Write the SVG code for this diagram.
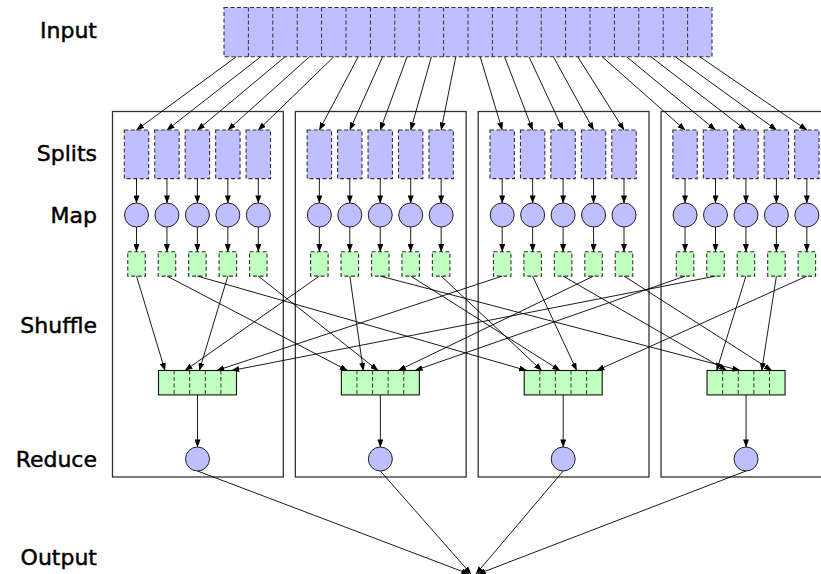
<svg xmlns="http://www.w3.org/2000/svg" width="821" height="574" viewBox="0 0 821 574">
<style>
.lbl{font-family:"DejaVu Sans",sans-serif;font-size:22px;fill:#000;stroke:#000;stroke-width:0.45;text-anchor:end}
.grp{fill:none;stroke:#333;stroke-width:1.3}
.blue{fill:#bfbfff;stroke:#333;stroke-width:1.1;stroke-dasharray:4 2.5}
.bluec{fill:#bfbfff;stroke:#222;stroke-width:1}
.green{fill:#c0ffc0;stroke:#333;stroke-width:1.1;stroke-dasharray:4 2.5}
.shuf{fill:#c0ffc0;stroke:#111;stroke-width:1.1}
.div{stroke:#333;stroke-width:1;stroke-dasharray:4 2.5;fill:none}
.ar{stroke:#000;stroke-width:0.9;fill:none;marker-end:url(#ah)}
</style>
<defs>
<marker id="ah" markerUnits="userSpaceOnUse" markerWidth="8" markerHeight="6" refX="7.6" refY="3" orient="auto">
<path d="M0,0 L8,3 L0,6 Z" fill="#000"/>
</marker>
</defs>

<g id="labels">
<text class="lbl" x="97" y="38.3">Input</text>
<text class="lbl" x="97" y="160.7">Splits</text>
<text class="lbl" x="97" y="223">Map</text>
<text class="lbl" x="97" y="333">Shuffle</text>
<text class="lbl" x="97" y="467">Reduce</text>
<text class="lbl" x="97" y="565">Output</text>
</g>

<g id="worker-boxes">
<rect id="box1" class="grp" x="112.5" y="111.5" width="170.8" height="365.5"/>
<rect id="box2" class="grp" x="295.35" y="111.5" width="170.8" height="365.5"/>
<rect id="box3" class="grp" x="478.2" y="111.5" width="170.8" height="365.5"/>
<rect id="box4" class="grp" x="661.05" y="111.5" width="170.8" height="365.5"/>
</g>

<g id="input">
<rect class="blue" x="224" y="7.5" width="488" height="49.3"/>
<path class="div" d="M248.4,7.5V56.8M272.8,7.5V56.8M297.2,7.5V56.8M321.6,7.5V56.8M346,7.5V56.8M370.4,7.5V56.8M394.8,7.5V56.8M419.2,7.5V56.8M443.6,7.5V56.8M468,7.5V56.8M492.4,7.5V56.8M516.8,7.5V56.8M541.2,7.5V56.8M565.6,7.5V56.8M590,7.5V56.8M614.4,7.5V56.8M638.8,7.5V56.8M663.2,7.5V56.8M687.6,7.5V56.8"/>
</g>

<g id="splits">
<g id="split1-1"><rect class="blue" x="124.3" y="130" width="24.4" height="48.6"/></g>
<g id="split1-2"><rect class="blue" x="154.75" y="130" width="24.4" height="48.6"/></g>
<g id="split1-3"><rect class="blue" x="185.2" y="130" width="24.4" height="48.6"/></g>
<g id="split1-4"><rect class="blue" x="215.65" y="130" width="24.4" height="48.6"/></g>
<g id="split1-5"><rect class="blue" x="246.1" y="130" width="24.4" height="48.6"/></g>
<g id="split2-1"><rect class="blue" x="307.15" y="130" width="24.4" height="48.6"/></g>
<g id="split2-2"><rect class="blue" x="337.6" y="130" width="24.4" height="48.6"/></g>
<g id="split2-3"><rect class="blue" x="368.05" y="130" width="24.4" height="48.6"/></g>
<g id="split2-4"><rect class="blue" x="398.5" y="130" width="24.4" height="48.6"/></g>
<g id="split2-5"><rect class="blue" x="428.95" y="130" width="24.4" height="48.6"/></g>
<g id="split3-1"><rect class="blue" x="490" y="130" width="24.4" height="48.6"/></g>
<g id="split3-2"><rect class="blue" x="520.45" y="130" width="24.4" height="48.6"/></g>
<g id="split3-3"><rect class="blue" x="550.9" y="130" width="24.4" height="48.6"/></g>
<g id="split3-4"><rect class="blue" x="581.35" y="130" width="24.4" height="48.6"/></g>
<g id="split3-5"><rect class="blue" x="611.8" y="130" width="24.4" height="48.6"/></g>
<g id="split4-1"><rect class="blue" x="672.85" y="130" width="24.4" height="48.6"/></g>
<g id="split4-2"><rect class="blue" x="703.3" y="130" width="24.4" height="48.6"/></g>
<g id="split4-3"><rect class="blue" x="733.75" y="130" width="24.4" height="48.6"/></g>
<g id="split4-4"><rect class="blue" x="764.2" y="130" width="24.4" height="48.6"/></g>
<g id="split4-5"><rect class="blue" x="794.65" y="130" width="24.4" height="48.6"/></g>
</g>

<g id="maps">
<g id="map1-1"><circle class="bluec" cx="136.5" cy="215" r="12"/></g>
<g id="map1-2"><circle class="bluec" cx="166.95" cy="215" r="12"/></g>
<g id="map1-3"><circle class="bluec" cx="197.4" cy="215" r="12"/></g>
<g id="map1-4"><circle class="bluec" cx="227.85" cy="215" r="12"/></g>
<g id="map1-5"><circle class="bluec" cx="258.3" cy="215" r="12"/></g>
<g id="map2-1"><circle class="bluec" cx="319.35" cy="215" r="12"/></g>
<g id="map2-2"><circle class="bluec" cx="349.8" cy="215" r="12"/></g>
<g id="map2-3"><circle class="bluec" cx="380.25" cy="215" r="12"/></g>
<g id="map2-4"><circle class="bluec" cx="410.7" cy="215" r="12"/></g>
<g id="map2-5"><circle class="bluec" cx="441.15" cy="215" r="12"/></g>
<g id="map3-1"><circle class="bluec" cx="502.2" cy="215" r="12"/></g>
<g id="map3-2"><circle class="bluec" cx="532.65" cy="215" r="12"/></g>
<g id="map3-3"><circle class="bluec" cx="563.1" cy="215" r="12"/></g>
<g id="map3-4"><circle class="bluec" cx="593.55" cy="215" r="12"/></g>
<g id="map3-5"><circle class="bluec" cx="624" cy="215" r="12"/></g>
<g id="map4-1"><circle class="bluec" cx="685.05" cy="215" r="12"/></g>
<g id="map4-2"><circle class="bluec" cx="715.5" cy="215" r="12"/></g>
<g id="map4-3"><circle class="bluec" cx="745.95" cy="215" r="12"/></g>
<g id="map4-4"><circle class="bluec" cx="776.4" cy="215" r="12"/></g>
<g id="map4-5"><circle class="bluec" cx="806.85" cy="215" r="12"/></g>
</g>

<g id="map-outputs">
<g id="out1-1"><rect class="green" x="127.75" y="251.7" width="17.5" height="24.4"/></g>
<g id="out1-2"><rect class="green" x="158.2" y="251.7" width="17.5" height="24.4"/></g>
<g id="out1-3"><rect class="green" x="188.65" y="251.7" width="17.5" height="24.4"/></g>
<g id="out1-4"><rect class="green" x="219.1" y="251.7" width="17.5" height="24.4"/></g>
<g id="out1-5"><rect class="green" x="249.55" y="251.7" width="17.5" height="24.4"/></g>
<g id="out2-1"><rect class="green" x="310.6" y="251.7" width="17.5" height="24.4"/></g>
<g id="out2-2"><rect class="green" x="341.05" y="251.7" width="17.5" height="24.4"/></g>
<g id="out2-3"><rect class="green" x="371.5" y="251.7" width="17.5" height="24.4"/></g>
<g id="out2-4"><rect class="green" x="401.95" y="251.7" width="17.5" height="24.4"/></g>
<g id="out2-5"><rect class="green" x="432.4" y="251.7" width="17.5" height="24.4"/></g>
<g id="out3-1"><rect class="green" x="493.45" y="251.7" width="17.5" height="24.4"/></g>
<g id="out3-2"><rect class="green" x="523.9" y="251.7" width="17.5" height="24.4"/></g>
<g id="out3-3"><rect class="green" x="554.35" y="251.7" width="17.5" height="24.4"/></g>
<g id="out3-4"><rect class="green" x="584.8" y="251.7" width="17.5" height="24.4"/></g>
<g id="out3-5"><rect class="green" x="615.25" y="251.7" width="17.5" height="24.4"/></g>
<g id="out4-1"><rect class="green" x="676.3" y="251.7" width="17.5" height="24.4"/></g>
<g id="out4-2"><rect class="green" x="706.75" y="251.7" width="17.5" height="24.4"/></g>
<g id="out4-3"><rect class="green" x="737.2" y="251.7" width="17.5" height="24.4"/></g>
<g id="out4-4"><rect class="green" x="767.65" y="251.7" width="17.5" height="24.4"/></g>
<g id="out4-5"><rect class="green" x="798.1" y="251.7" width="17.5" height="24.4"/></g>
</g>

<g id="shuffles">
<g id="shuffle1"><rect class="shuf" x="158.5" y="370.5" width="78" height="24.4"/><path class="div" d="M174.1,370.5V394.9M189.7,370.5V394.9M205.3,370.5V394.9M220.9,370.5V394.9"/></g>
<g id="shuffle2"><rect class="shuf" x="341.35" y="370.5" width="78" height="24.4"/><path class="div" d="M356.95,370.5V394.9M372.55,370.5V394.9M388.15,370.5V394.9M403.75,370.5V394.9"/></g>
<g id="shuffle3"><rect class="shuf" x="524.2" y="370.5" width="78" height="24.4"/><path class="div" d="M539.8,370.5V394.9M555.4,370.5V394.9M571,370.5V394.9M586.6,370.5V394.9"/></g>
<g id="shuffle4"><rect class="shuf" x="707.05" y="370.5" width="78" height="24.4"/><path class="div" d="M722.65,370.5V394.9M738.25,370.5V394.9M753.85,370.5V394.9M769.45,370.5V394.9"/></g>
</g>

<g id="reducers">
<g id="reduce1"><circle class="bluec" cx="197.5" cy="459" r="12"/></g>
<g id="reduce2"><circle class="bluec" cx="380.35" cy="459" r="12"/></g>
<g id="reduce3"><circle class="bluec" cx="563.2" cy="459" r="12"/></g>
<g id="reduce4"><circle class="bluec" cx="746.05" cy="459" r="12"/></g>
</g>

<g id="connectors">
<path class="ar" d="M236.2,56.8L136.5,130"/>
<path class="ar" d="M260.6,56.8L166.95,130"/>
<path class="ar" d="M285,56.8L197.4,130"/>
<path class="ar" d="M309.4,56.8L227.85,130"/>
<path class="ar" d="M333.8,56.8L258.3,130"/>
<path class="ar" d="M358.2,56.8L319.35,130"/>
<path class="ar" d="M382.6,56.8L349.8,130"/>
<path class="ar" d="M407,56.8L380.25,130"/>
<path class="ar" d="M431.4,56.8L410.7,130"/>
<path class="ar" d="M455.8,56.8L441.15,130"/>
<path class="ar" d="M480.2,56.8L502.2,130"/>
<path class="ar" d="M504.6,56.8L532.65,130"/>
<path class="ar" d="M529,56.8L563.1,130"/>
<path class="ar" d="M553.4,56.8L593.55,130"/>
<path class="ar" d="M577.8,56.8L624,130"/>
<path class="ar" d="M602.2,56.8L685.05,130"/>
<path class="ar" d="M626.6,56.8L715.5,130"/>
<path class="ar" d="M651,56.8L745.95,130"/>
<path class="ar" d="M675.4,56.8L776.4,130"/>
<path class="ar" d="M699.8,56.8L806.85,130"/>
<path class="ar" d="M136.5,178.6V203"/><path class="ar" d="M166.95,178.6V203"/><path class="ar" d="M197.4,178.6V203"/><path class="ar" d="M227.85,178.6V203"/><path class="ar" d="M258.3,178.6V203"/>
<path class="ar" d="M319.35,178.6V203"/><path class="ar" d="M349.8,178.6V203"/><path class="ar" d="M380.25,178.6V203"/><path class="ar" d="M410.7,178.6V203"/><path class="ar" d="M441.15,178.6V203"/>
<path class="ar" d="M502.2,178.6V203"/><path class="ar" d="M532.65,178.6V203"/><path class="ar" d="M563.1,178.6V203"/><path class="ar" d="M593.55,178.6V203"/><path class="ar" d="M624,178.6V203"/>
<path class="ar" d="M685.05,178.6V203"/><path class="ar" d="M715.5,178.6V203"/><path class="ar" d="M745.95,178.6V203"/><path class="ar" d="M776.4,178.6V203"/><path class="ar" d="M806.85,178.6V203"/>
<path class="ar" d="M136.5,227V251.7"/><path class="ar" d="M166.95,227V251.7"/><path class="ar" d="M197.4,227V251.7"/><path class="ar" d="M227.85,227V251.7"/><path class="ar" d="M258.3,227V251.7"/>
<path class="ar" d="M319.35,227V251.7"/><path class="ar" d="M349.8,227V251.7"/><path class="ar" d="M380.25,227V251.7"/><path class="ar" d="M410.7,227V251.7"/><path class="ar" d="M441.15,227V251.7"/>
<path class="ar" d="M502.2,227V251.7"/><path class="ar" d="M532.65,227V251.7"/><path class="ar" d="M563.1,227V251.7"/><path class="ar" d="M593.55,227V251.7"/><path class="ar" d="M624,227V251.7"/>
<path class="ar" d="M685.05,227V251.7"/><path class="ar" d="M715.5,227V251.7"/><path class="ar" d="M745.95,227V251.7"/><path class="ar" d="M776.4,227V251.7"/><path class="ar" d="M806.85,227V251.7"/>
<path class="ar" d="M136.5,276.1L165,370.5"/>
<path class="ar" d="M319.35,276.1L185,370.5"/>
<path class="ar" d="M227.85,276.1L199.3,370.5"/>
<path class="ar" d="M502.2,276.1L216.7,370.5"/>
<path class="ar" d="M715.5,276.1L231.7,370.5"/>
<path class="ar" d="M166.95,276.1L347.5,370.5"/>
<path class="ar" d="M349.8,276.1L363.3,370.5"/>
<path class="ar" d="M258.3,276.1L378,370.5"/>
<path class="ar" d="M593.55,276.1L398.3,370.5"/>
<path class="ar" d="M685.05,276.1L415,370.5"/>
<path class="ar" d="M197.4,276.1L526.7,370.5"/>
<path class="ar" d="M441.15,276.1L541.7,370.5"/>
<path class="ar" d="M410.7,276.1L560,370.5"/>
<path class="ar" d="M532.65,276.1L576.7,370.5"/>
<path class="ar" d="M806.85,276.1L596.7,370.5"/>
<path class="ar" d="M745.95,276.1L716.7,370.5"/>
<path class="ar" d="M563.1,276.1L726.7,370.5"/>
<path class="ar" d="M380.25,276.1L740,370.5"/>
<path class="ar" d="M776.4,276.1L761.7,370.5"/>
<path class="ar" d="M624,276.1L771.7,370.5"/>
<path class="ar" d="M197.5,394.9V447"/>
<path class="ar" d="M380.35,394.9V447"/>
<path class="ar" d="M563.2,394.9V447"/>
<path class="ar" d="M746.05,394.9V447"/>
<path class="ar" d="M197.5,471L469,574"/>
<path class="ar" d="M380.35,471L471,574"/>
<path class="ar" d="M563.2,471L476,574"/>
<path class="ar" d="M746.05,471L478,574"/>
</g>
</svg>
